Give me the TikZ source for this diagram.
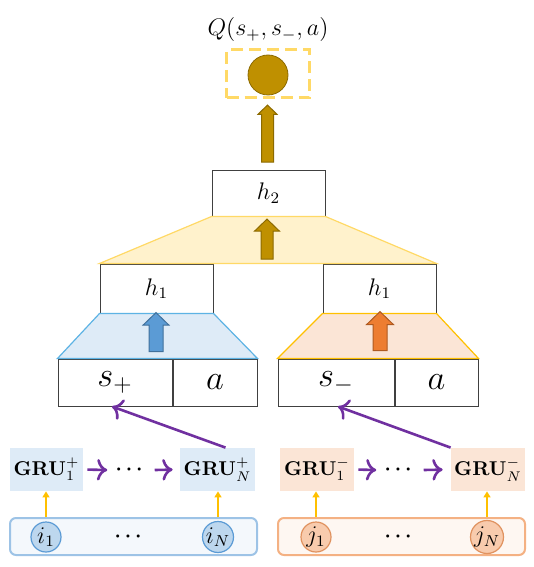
\documentclass[tikz,border=0pt]{standalone}
\usepackage{amsmath}
\usetikzlibrary{arrows.meta,positioning,shapes.geometric,shapes.arrows}

\definecolor{blueFill}{HTML}{DEEBF7}
\definecolor{blueEdge}{HTML}{5DB3E4}
\definecolor{blueArrow}{HTML}{5B9BD5}
\definecolor{blueArrowEdge}{HTML}{41719C}
\definecolor{orangeFill}{HTML}{FBE5D6}
\definecolor{orangeEdge}{HTML}{FFC000}
\definecolor{orangeArrow}{HTML}{ED7D31}
\definecolor{orangeArrowEdge}{HTML}{AE5A21}
\definecolor{yellowFill}{HTML}{FFF2CC}
\definecolor{yellowEdge}{HTML}{FFD966}
\definecolor{gold}{HTML}{BF9000}
\definecolor{goldDark}{HTML}{8C6A00}
\definecolor{purpleLine}{HTML}{7030A0}
\definecolor{feedYellow}{HTML}{FFC000}
\definecolor{barBlue}{HTML}{9DC3E6}
\definecolor{barBlueFill}{HTML}{F4F8FC}
\definecolor{tokBlue}{HTML}{5B9BD5}
\definecolor{tokBlueFill}{HTML}{BDD7EE}
\definecolor{barOrange}{HTML}{F4B183}
\definecolor{barOrangeFill}{HTML}{FEF7F2}
\definecolor{tokOrange}{HTML}{E0925F}
\definecolor{tokOrangeFill}{HTML}{F8CBAD}

\begin{document}
\begin{tikzpicture}[
  x=0.5pt,y=-0.5pt,
  cell/.style    ={draw=black!75,fill=white,line width=0.5pt,inner sep=0pt,
                   minimum height=23.5pt},
  grubox/.style  ={inner sep=0pt,minimum height=21.5pt},
  token/.style   ={circle,draw,inner sep=0pt,minimum size=15pt,line width=0.6pt,font=\large},
  inbar/.style   ={draw,rounded corners=3pt,line width=1pt,
                   minimum width=123.5pt,minimum height=18.5pt},
  fatarrow/.style={single arrow,shape border rotate=90,
                   single arrow tip angle=92,line width=0.5pt},
  flow/.style    ={-{To[scale=1.15]},line width=1.3pt,draw=purpleLine},
  feed/.style    ={-{Triangle[length=3pt,width=3.5pt]},line width=0.9pt,draw=feedYellow},
]
\useasboundingbox (0,0) rectangle (534,567);

% --- output ---
\node[font=\large] (qlabel) at (268,30) {$Q(s_+,s_-,a)$};
\node[draw=yellowEdge,line width=1.5pt,dash pattern=on 6pt off 3pt,
      minimum width=41.5pt,minimum height=24pt] (qbox) at (268,74) {};
\node[circle,fill=gold,draw=goldDark,minimum size=20pt,inner sep=0pt] (qout) at (268,75) {};

% --- hidden layers ---
\node[cell,minimum width=56.5pt,minimum height=23pt,font=\large] (h2) at (268.5,193) {$h_2$};
\node[cell,minimum width=56.5pt,minimum height=24.5pt,font=\large] (h1p) at (156.5,288.5) {$h_1$};
\node[cell,minimum width=56.5pt,minimum height=24.5pt,font=\large] (h1m) at (379.5,288.5) {$h_1$};

% --- state/action inputs ---
\node[cell,minimum width=57pt,font=\LARGE] (splus) at (115,382.5) {$s_+$};
\node[cell,minimum width=42pt,font=\LARGE,right=0pt of splus] (aplus) {$a$};
\node[cell,minimum width=58pt,font=\LARGE] (sminus) at (336,382.5) {$s_-$};
\node[cell,minimum width=41.5pt,font=\LARGE,right=0pt of sminus] (aminus) {$a$};

% --- trapezoids between layers ---
\draw[draw=blueEdge,fill=blueFill,line width=0.6pt]
  (h1p.south west) -- (h1p.south east) -- (aplus.north east) -- (splus.north west) -- cycle;
\draw[draw=orangeEdge,fill=orangeFill,line width=0.6pt]
  (h1m.south west) -- (h1m.south east) -- (aminus.north east) -- (sminus.north west) -- cycle;
\draw[draw=yellowEdge,fill=yellowFill,line width=0.6pt]
  (h2.south west) -- (h2.south east) -- (h1m.north east) -- (h1p.north west) -- cycle;

% --- fat arrows ---
\node[fatarrow,fill=gold,draw=goldDark,inner sep=2.75pt,single arrow head extend=1.75pt,
      minimum height=28.5pt] (upq) at (267.5,136.5) {};
\node[fatarrow,fill=gold,draw=goldDark,inner sep=2.75pt,single arrow head extend=3.25pt,
      minimum height=20pt] (uph2) at (267,242) {};
\node[fatarrow,fill=blueArrow,draw=blueArrowEdge,inner sep=3.25pt,single arrow head extend=3pt,
      minimum height=19.5pt] (uph1p) at (156,335.5) {};
\node[fatarrow,fill=orangeArrow,draw=orangeArrowEdge,inner sep=3.25pt,single arrow head extend=3.25pt,
      minimum height=19.5pt] (uph1m) at (380,334.5) {};

% --- GRU chains ---
\node[grubox,fill=blueFill,minimum width=36.5pt] (gru1p) at (46.5,469.5) {$\mathbf{GRU}_1^+$};
\node[grubox,fill=blueFill,minimum width=37.5pt] (gruNp) at (217.5,469.5) {$\mathbf{GRU}_N^+$};
\node[inner sep=4pt] (dotsp) at (131,470) {$\boldsymbol{\cdots}$};
\node[grubox,fill=orangeFill,minimum width=37pt] (gru1m) at (317,469.5) {$\mathbf{GRU}_1^-$};
\node[grubox,fill=orangeFill,minimum width=37pt] (gruNm) at (488,469.5) {$\mathbf{GRU}_N^-$};
\node[inner sep=4pt] (dotsm) at (400,470) {$\boldsymbol{\cdots}$};

\draw[flow,shorten <=2pt] (gru1p.east) -- (dotsp.west);
\draw[flow,shorten >=3.5pt] (dotsp.east) -- (gruNp.west);
\draw[flow,shorten <=2pt] (gru1m.east) -- (dotsm.west);
\draw[flow,shorten >=4pt] (dotsm.east) -- (gruNm.west);

\draw[flow] ([xshift=4pt]gruNp.north) -- ([xshift=-1.5pt]splus.south);
\draw[flow] (gruNm.north west) -- ([xshift=1pt]sminus.south);

% --- input sequences ---
\node[inbar,draw=barBlue,fill=barBlueFill] (barp) at (133.5,536.5) {};
\node[token,draw=tokBlue,fill=tokBlueFill] (ip1) at (46,537) {$i_1$};
\node[token,draw=tokBlue,fill=tokBlueFill] (ipN) at (218,537) {$i_N$};
\node (bdotsp) at (130,537) {$\boldsymbol{\cdots}$};
\node[inbar,draw=barOrange,fill=barOrangeFill] (barm) at (401.5,536.5) {};
\node[token,draw=tokOrange,fill=tokOrangeFill] (jm1) at (316,537) {$j_1$};
\node[token,draw=tokOrange,fill=tokOrangeFill] (jmN) at (487,537) {$j_N$};
\node (bdotsm) at (400,537) {$\boldsymbol{\cdots}$};

\draw[feed] (ip1 |- barp.north) -- (ip1 |- gru1p.south);
\draw[feed] (ipN |- barp.north) -- (ipN |- gruNp.south);
\draw[feed] (jm1 |- barm.north) -- (jm1 |- gru1m.south);
\draw[feed] (jmN |- barm.north) -- (jmN |- gruNm.south);

\end{tikzpicture}
\end{document}
